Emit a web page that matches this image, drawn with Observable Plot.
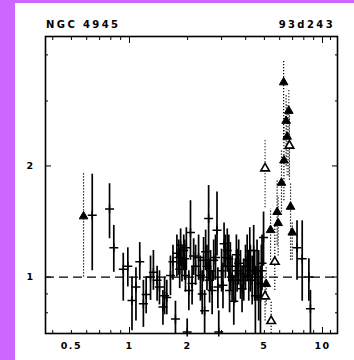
<!DOCTYPE html>
<html><head><meta charset="utf-8">
<script src="https://cdn.jsdelivr.net/npm/d3@7"></script>
<script src="https://cdn.jsdelivr.net/npm/@observablehq/plot@0.6"></script>
<style>
html,body{margin:0;padding:0}
body{background:#cc66ff;width:354px;height:360px;overflow:hidden;position:relative}
#panel{position:absolute;left:15px;top:3px;width:339px;height:357px;background:#fff}
.ttl{position:absolute;top:17px;font:bold 10px "DejaVu Sans";line-height:10px;letter-spacing:2.4px;color:#000;white-space:nowrap}
#chart{position:absolute;left:0;top:27px}
#chart svg{display:block}
</style></head><body>
<div id="panel">
<div class="ttl" style="left:31px">NGC 4945</div>
<div class="ttl" style="right:19px">93d243</div>
<div id="chart"></div>
</div>
<script>
// Crosses: energy (keV), ratio, lower and upper error
const crossE  = [0.641,0.788,0.829,0.928,0.98,1.03,1.08,1.13,1.18,1.22,1.285,1.33,1.39,1.43,1.49,1.52,1.56,1.63,1.68,1.73,1.76,1.80,1.82,1.84,1.87,1.91,1.93,1.95,1.97,1.99,2.03,2.07,2.11,2.15,2.20,2.28,2.33,2.38,2.42,2.45,2.48,2.52,2.57,2.60,2.63,2.68,2.73,2.79,2.84,2.87,2.90,3.00,3.05,3.09,3.14,3.21,3.27,3.30,3.33,3.40,3.47,3.54,3.58,3.61,3.68,3.76,3.83,3.91,3.99,4.07,4.15,4.20,4.23,4.32,4.40,4.45,4.49,4.58,4.67,4.77,4.82,4.86,4.95,7.38,7.85,8.5,8.66];
const crossR  = [1.47,1.53,1.20,1.05,1.07,0.864,0.94,1.10,0.846,0.897,1.0,1.03,0.98,0.94,0.83,0.89,0.88,1.01,1.10,0.77,1.16,1.13,1.05,1.22,1.09,1.18,1.12,1.01,1.20,0.71,0.92,1.32,0.96,1.14,1.07,1.13,1.01,0.90,1.11,0.81,1.17,1.07,1.44,0.98,1.04,0.92,1.11,1.13,1.34,0.94,0.71,1.04,0.95,1.23,1.13,1.18,1.12,0.92,1.07,1.0,0.86,0.98,1.15,1.04,1.09,1.02,0.93,0.98,1.07,1.11,1.01,1.18,1.04,0.98,1.18,1.0,0.89,1.04,0.96,0.88,1.04,1.09,1.28,1.20,1.12,1.0,0.82];
const crossLo = [1.04,1.27,1.03,0.86,0.94,0.715,0.76,0.98,0.73,0.795,0.864,0.92,0.86,0.84,0.74,0.79,0.79,0.89,0.98,0.69,1.0,1.01,0.93,1.07,0.97,1.04,0.98,0.91,1.04,0.69,0.81,1.11,0.84,1.01,0.95,0.98,0.86,0.79,0.97,0.69,1.04,0.92,0.98,0.85,0.92,0.79,0.98,0.98,1.14,0.82,0.69,0.91,0.82,1.06,0.99,1.03,0.97,0.80,0.92,0.86,0.74,0.85,1.0,0.91,0.95,0.87,0.80,0.86,0.92,0.97,0.86,1.02,0.91,0.84,1.01,0.86,0.69,0.86,0.76,0.69,0.88,0.92,1.07,0.98,0.86,0.86,0.69];
const crossHi = [1.90,1.79,1.38,1.16,1.20,1.0,1.06,1.24,0.98,1.0,1.14,1.18,1.07,1.04,0.92,1.0,0.98,1.14,1.22,0.86,1.30,1.26,1.20,1.35,1.22,1.30,1.26,1.12,1.36,0.77,1.04,1.61,1.07,1.27,1.22,1.30,1.14,1.04,1.28,0.92,1.34,1.22,1.77,1.12,1.18,1.04,1.26,1.30,1.70,1.06,0.81,1.19,1.09,1.40,1.30,1.35,1.30,1.05,1.24,1.14,1.01,1.12,1.30,1.19,1.26,1.18,1.07,1.12,1.22,1.30,1.18,1.36,1.22,1.14,1.38,1.18,1.07,1.26,1.18,1.07,1.22,1.30,1.50,1.42,1.42,1.12,0.92];

// Triangles (dotted error bars)
const triE    = [0.578,5.04,6.29,6.69,6.48,6.56,6.74,6.31,6.13,6.83,5.82,5.89,5.38,6.97,5.66,5.11,5.04,5.42];
const triR    = [1.46,1.97,3.37,2.82,2.65,2.40,2.27,2.07,1.80,1.55,1.50,1.40,1.34,1.32,1.10,0.957,0.886,0.76];
const triLo   = [1.0,1.54,2.34,1.88,2.00,1.88,1.83,1.61,1.47,1.11,1.22,1.14,1.11,1.11,0.92,0.84,0.76,0.69];
const triHi   = [1.91,2.37,3.86,3.24,3.10,2.92,2.74,2.57,2.20,1.79,1.83,1.66,1.53,1.41,1.38,1.07,1.01,0.86];
const triOpen = [false,true,false,false,false,false,true,false,false,false,false,false,false,false,true,false,true,true];

// Axis ticks
const xLabels = [0.5, 1, 2, 5, 10];
const xMinor  = [0.4,0.5,0.6,0.7,0.8,0.9,2,3,4,5,6,7,8,9,11];
const xMajor  = [1, 10];
const yLabels = [1, 2];
const yMinor  = [0.8, 0.9, 3, 4];
const yMajor  = [1, 2];
const refLine = [1];

const cross = crossE.map((e, i) => ({e, r: crossR[i], lo: crossLo[i], hi: crossHi[i]}));
const tri = triE.map((e, i) => ({e, r: triR[i], lo: triLo[i], hi: triHi[i], open: triOpen[i]}));

const txt = {fontSize: 9.5, fontWeight: "bold", text: d => String(d)};
const plot = Plot.plot({
  width: 339, height: 330,
  marginLeft: 30, marginRight: 17, marginTop: 6, marginBottom: 27,
  x: {type: "log", domain: [0.367, 11.96]},
  y: {type: "log", domain: [0.703, 4.486]},
  style: {background: "white", color: "black", fontFamily: "DejaVu Sans", letterSpacing: "1.5px"},
  marks: [
    Plot.ruleY(refLine, {strokeDasharray: "9,5", strokeWidth: 1.3}),
    Plot.ruleX(tri, {x: "e", y1: "lo", y2: "hi", strokeDasharray: "1.2,1.8", strokeWidth: 1.2, clip: true}),
    Plot.ruleX(cross, {x: "e", y1: "lo", y2: "hi", strokeWidth: 1.7, clip: true}),
    Plot.dot(cross, {x: "e", y: "r", symbol: "plus", r: 3, stroke: "black", strokeWidth: 1.5}),
    Plot.dot(tri.filter(d => !d.open), {x: "e", y: "r", symbol: "triangle", r: 3.2, fill: "black", stroke: "black", strokeWidth: 1}),
    Plot.dot(tri.filter(d => d.open), {x: "e", y: "r", symbol: "triangle", r: 3.2, fill: "white", stroke: "black", strokeWidth: 1.6}),
    Plot.axisX(xMinor, {anchor: "bottom", tickSize: -3, tickFormat: () => "", label: null}),
    Plot.axisX(xMajor, {anchor: "bottom", tickSize: -6, tickFormat: () => "", label: null}),
    Plot.axisX(xMinor, {anchor: "top", tickSize: -3, tickFormat: () => "", label: null}),
    Plot.axisX(xMajor, {anchor: "top", tickSize: -6, tickFormat: () => "", label: null}),
    Plot.text(xLabels, {x: d => d, frameAnchor: "bottom", lineAnchor: "top", dy: 9, ...txt}),
    Plot.axisY(yMinor, {anchor: "left", tickSize: -3, tickFormat: () => "", label: null}),
    Plot.axisY(yMajor, {anchor: "left", tickSize: -6, tickFormat: () => "", label: null}),
    Plot.axisY(yMinor, {anchor: "right", tickSize: -3, tickFormat: () => "", label: null}),
    Plot.axisY(yMajor, {anchor: "right", tickSize: -6, tickFormat: () => "", label: null}),
    Plot.text(yLabels, {y: d => d, frameAnchor: "left", textAnchor: "end", dx: -11, ...txt}),
    Plot.frame({strokeWidth: 1.6})
  ]
});
document.getElementById("chart").appendChild(plot);
</script>
</body></html>
